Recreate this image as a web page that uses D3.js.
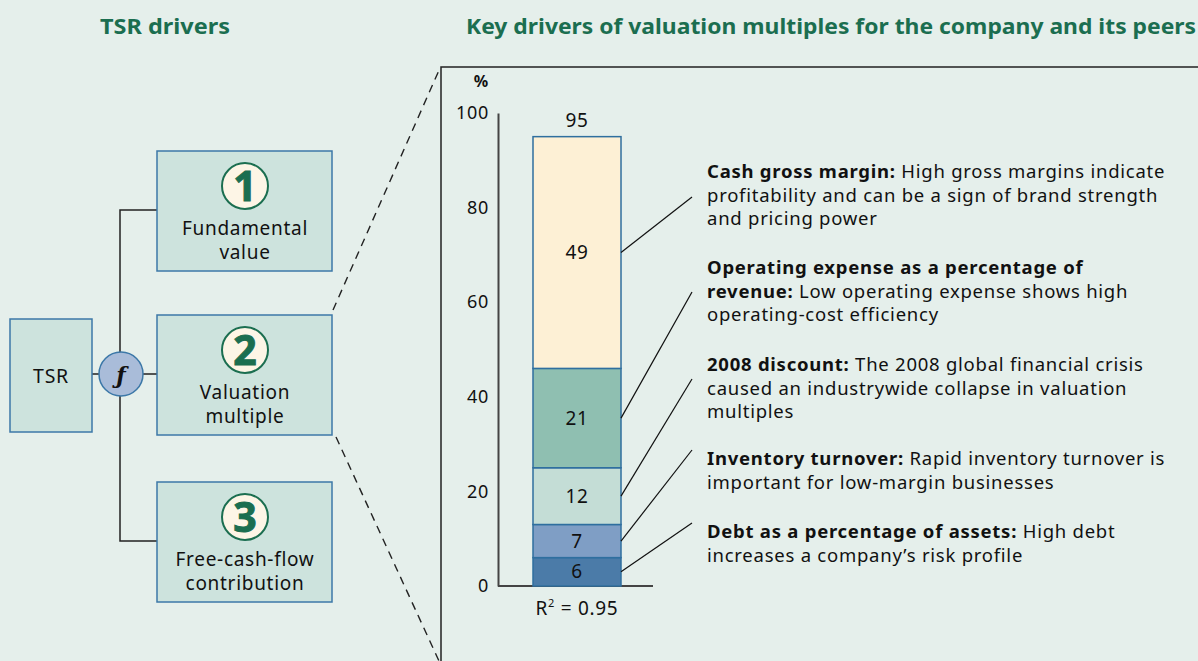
<!DOCTYPE html>
<html>
<head>
<meta charset="utf-8">
<script src="https://cdnjs.cloudflare.com/ajax/libs/d3/7.8.5/d3.min.js"></script>
<style>
  body { margin:0; background:#e5efeb; }
  svg { display:block; font-family:"Noto Sans", "Open Sans", sans-serif; }
  .wide { letter-spacing:0.7px; }
</style>
</head>
<body>
<svg></svg>
<script>
// values (percent contribution of each driver, bottom to top)
var drivers = ["Debt as a percentage of assets", "Inventory turnover", "2008 discount",
               "Operating expense as a percentage of revenue", "Cash gross margin"];
var shares = [6, 7, 12, 21, 49];
var total = 95;
var rSquared = "0.95";
var yTicks = [0, 20, 40, 60, 80, 100];
var segColors = ["#4b7ba8", "#7f9ec5", "#c4ddd6", "#8fbfb1", "#fdf0d5"];

// note text, top to bottom (bold part, plain part) per line
var notes = [
  [["Cash gross margin:", " High gross margins indicate"], ["", "profitability and can be a sign of brand strength"], ["", "and pricing power"]],
  [["Operating expense as a percentage of", ""], ["revenue:", " Low operating expense shows high"], ["", "operating-cost efficiency"]],
  [["2008 discount:", " The 2008 global financial crisis"], ["", "caused an industrywide collapse in valuation"], ["", "multiples"]],
  [["Inventory turnover:", " Rapid inventory turnover is"], ["", "important for low-margin businesses"]],
  [["Debt as a percentage of assets:", " High debt"], ["", "increases a company\u2019s risk profile"]]
];

var tsrBoxes = [
  {num:"1", lines:["Fundamental", "value"]},
  {num:"2", lines:["Valuation", "multiple"]},
  {num:"3", lines:["Free-cash-flow", "contribution"]}
];

var screen = {width:1198, height:661};
var svg = d3.select("svg").attr("width", screen.width).attr("height", screen.height);

var green = "#1b6e50", boxFill = "#cde3dd", boxStroke = "#3c78a8";

// titles
svg.append("text").attr("x", 165).attr("y", 34).attr("text-anchor", "middle")
  .attr("fill", green).attr("font-weight", "bold").attr("font-size", 22)
  .attr("textLength", 130).attr("lengthAdjust", "spacingAndGlyphs")
  .text("TSR drivers");
svg.append("text").attr("x", 831).attr("y", 34).attr("text-anchor", "middle")
  .attr("fill", green).attr("font-weight", "bold").attr("font-size", 22)
  .attr("textLength", 730).attr("lengthAdjust", "spacingAndGlyphs")
  .text("Key drivers of valuation multiples for the company and its peers");

// ---- left diagram ----
var left = svg.append("g");
// connectors
left.append("path")
  .attr("d", "M157,210H120V541H157M92,374H157")
  .attr("fill", "none").attr("stroke", "#222").attr("stroke-width", 1.5);

left.append("rect").attr("x", 10).attr("y", 319).attr("width", 82).attr("height", 113)
  .attr("fill", boxFill).attr("stroke", boxStroke).attr("stroke-width", 1.5);
left.append("text").classed("wide", true).attr("x", 51).attr("y", 376).attr("dy", "0.35em")
  .attr("text-anchor", "middle").attr("font-size", 19.5).attr("fill", "#111").text("TSR");

left.append("circle").attr("cx", 121).attr("cy", 374).attr("r", 22)
  .attr("fill", "#a9bcd9").attr("stroke", boxStroke).attr("stroke-width", 1.5);
left.append("text").attr("x", 121).attr("y", 375).attr("dy", "0.35em")
  .attr("text-anchor", "middle").attr("font-size", 22).attr("font-style", "italic")
  .attr("font-weight", "bold").attr("font-family", "DejaVu Serif").attr("fill", "#111")
  .text("\u0192");

var boxTops = [151, 315, 482];
var boxes = left.selectAll("g.tsrbox").data(tsrBoxes).enter().append("g")
  .classed("tsrbox", true)
  .attr("transform", function(d, i) { return "translate(157," + boxTops[i] + ")"; });
boxes.append("rect").attr("width", 175).attr("height", 120)
  .attr("fill", boxFill).attr("stroke", boxStroke).attr("stroke-width", 1.5);
boxes.append("circle").attr("cx", 88).attr("cy", 35).attr("r", 23)
  .attr("fill", "#fdf5e6").attr("stroke", green).attr("stroke-width", 2);
boxes.append("text").attr("x", 88).attr("y", 35).attr("dy", "0.36em")
  .attr("text-anchor", "middle").attr("font-size", 41).attr("font-weight", "bold")
  .attr("fill", green).attr("stroke", green).attr("stroke-width", 1)
  .text(function(d) { return d.num; });
boxes.each(function(d) {
  d3.select(this).selectAll("text.lbl").data(d.lines).enter().append("text")
    .classed("lbl", true).classed("wide", true)
    .attr("x", 88).attr("y", function(t, j) { return 77 + j * 24; }).attr("dy", "0.35em")
    .attr("text-anchor", "middle").attr("font-size", 19).attr("fill", "#111")
    .text(function(t) { return t; });
});

// zoom dashes and panel frame
svg.append("path").attr("d", "M333,310L440,68M336,437L439,661")
  .attr("fill", "none").attr("stroke", "#222").attr("stroke-width", 1.4)
  .attr("stroke-dasharray", "8,6");
svg.append("path").attr("d", "M441,661V67H1198")
  .attr("fill", "none").attr("stroke", "#222").attr("stroke-width", 1.5);

// ---- bar chart ----
var yScale = d3.scaleLinear().domain([0, 100]).range([586, 113]);
var barX = 533, barW = 88, barMid = barX + barW / 2;

var tops = d3.cumsum(shares);
var segs = shares.map(function(v, i) {
  return {value:v, y0:tops[i] - v, y1:tops[i], color:segColors[i], name:drivers[i]};
});

var yAxis = d3.axisLeft(yScale).tickValues(yTicks).tickSize(0).tickSizeOuter(0).tickPadding(9);
var ya = svg.append("g").classed("yAxis", true)
  .attr("transform", "translate(498,0)").call(yAxis);
ya.select(".domain").attr("stroke", "#444").attr("stroke-width", 2);
ya.selectAll("text").classed("wide", true).attr("font-size", 18).attr("fill", "#111")
  .attr("font-family", "Noto Sans, sans-serif");

svg.append("line").attr("x1", 498).attr("x2", 653)
  .attr("y1", yScale(0)).attr("y2", yScale(0))
  .attr("stroke", "#444").attr("stroke-width", 2);

svg.append("text").attr("x", 481).attr("y", 87).attr("text-anchor", "middle")
  .attr("font-size", 16).attr("font-weight", "bold").attr("fill", "#111").text("%");

svg.selectAll("rect.seg").data(segs).enter().append("rect").classed("seg", true)
  .attr("x", barX).attr("width", barW)
  .attr("y", function(d) { return yScale(d.y1); })
  .attr("height", function(d) { return yScale(d.y0) - yScale(d.y1); })
  .attr("fill", function(d) { return d.color; })
  .attr("stroke", "#2f6f9f").attr("stroke-width", 1.5);

svg.selectAll("text.seglbl").data(segs).enter().append("text").classed("seglbl wide", true)
  .attr("x", barMid)
  .attr("y", function(d) { return yScale((d.y0 + d.y1) / 2); }).attr("dy", "0.35em")
  .attr("text-anchor", "middle").attr("font-size", 19).attr("fill", "#111")
  .text(function(d) { return d.value; });

svg.append("text").classed("wide", true).attr("x", barMid).attr("y", yScale(total) - 16).attr("dy", "0.35em")
  .attr("text-anchor", "middle").attr("font-size", 19).attr("fill", "#111").text(total);

var r2 = svg.append("text").classed("wide", true).attr("x", barMid).attr("y", 608).attr("dy", "0.35em")
  .attr("text-anchor", "middle").attr("font-size", 19).attr("fill", "#111");
r2.append("tspan").text("R");
r2.append("tspan").attr("font-size", 11).attr("dy", "-0.7em").text("2");
r2.append("tspan").attr("dy", "0.42em").text(" = " + rSquared);

// ---- notes and leaders ----
var noteX = 707;
var noteTop = [172, 268, 365, 459, 532];
var leaderEnd = [197, 292, 379, 450, 523];
var noteSegs = segs.slice().reverse();

svg.selectAll("line.leader").data(noteSegs).enter().append("line").classed("leader", true)
  .attr("x1", barX + barW).attr("y1", function(d) { return yScale((d.y0 + d.y1) / 2); })
  .attr("x2", 692).attr("y2", function(d, i) { return leaderEnd[i]; })
  .attr("stroke", "#111").attr("stroke-width", 1.2);

notes.forEach(function(lines, i) {
  var t = svg.append("text").attr("font-size", 18.5).attr("fill", "#111")
    .attr("letter-spacing", "0.75px");
  lines.forEach(function(ln, j) {
    var y = noteTop[i] + j * 23.5;
    if (ln[0]) t.append("tspan").attr("x", noteX).attr("y", y).attr("dy", "0.35em")
      .attr("font-weight", "bold").text(ln[0]);
    var p = t.append("tspan").text(ln[1]);
    if (!ln[0]) p.attr("x", noteX).attr("y", y).attr("dy", "0.35em");
  });
});
</script>
</body>
</html>
